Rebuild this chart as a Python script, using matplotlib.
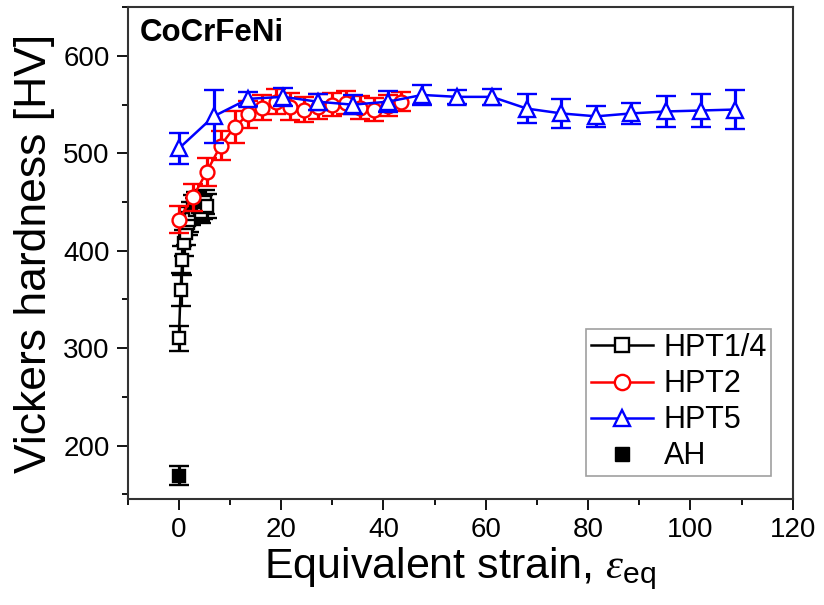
import matplotlib
matplotlib.use("Agg")
import matplotlib.pyplot as plt
from matplotlib.lines import Line2D
from matplotlib.ticker import MultipleLocator

plt.rcParams['font.family'] = ['Liberation Sans', 'DejaVu Sans']
plt.rcParams['mathtext.fontset'] = 'custom'
plt.rcParams['mathtext.rm'] = 'Liberation Sans'
plt.rcParams['mathtext.it'] = 'Liberation Serif:italic'

# HPT1/4 (black squares)
hpt14_x = [0, 0.34, 0.68, 1.02, 1.36, 1.70, 2.04, 2.38, 2.72, 3.06, 3.40, 3.74, 4.08, 4.42, 4.76, 5.10, 5.44]
hpt14_y = [310, 360, 390, 408, 418, 428, 432, 438, 445, 442, 448, 445, 443, 440, 445, 450, 446]
hpt14_e = [13, 17, 15, 13, 12, 12, 13, 12, 12, 12, 12, 12, 12, 12, 12, 12, 12]

# HPT2 (red circles)
hpt2_x = [0, 2.72, 5.44, 8.16, 10.88, 13.60, 16.32, 19.04, 21.76, 24.48, 27.20, 29.92, 32.64, 35.36, 38.08, 40.80, 43.52]
hpt2_y = [432, 455, 481, 508, 527, 540, 547, 553, 548, 545, 548, 550, 552, 547, 545, 549, 553]
hpt2_e = [14, 14, 14, 15, 16, 14, 13, 13, 14, 13, 13, 12, 12, 12, 12, 11, 10]

# HPT5 (blue triangles)
hpt5_x = [0, 6.8, 13.6, 20.4, 27.2, 34.0, 40.8, 47.6, 54.4, 61.2, 68.0, 74.8, 81.6, 88.4, 95.2, 102.0, 108.8]
hpt5_y = [505, 538, 556, 558, 553, 550, 553, 560, 558, 558, 546, 541, 538, 541, 543, 544, 545]
hpt5_e = [16, 27, 7, 9, 8, 10, 11, 10, 7, 8, 15, 15, 11, 11, 16, 17, 20]

# AH (filled square)
ah_x = [0]
ah_y = [169]
ah_e = [10]

fig = plt.figure(figsize=(8.24, 6.05), dpi=100)
ax = fig.add_axes([0.155, 0.175, 0.807, 0.813])

common = dict(linewidth=1.8, elinewidth=2.3, capsize=7.5, capthick=2.3, markersize=9,
              markeredgewidth=1.7)
ax.errorbar(hpt14_x, hpt14_y, yerr=hpt14_e, color='black', marker='s',
            markerfacecolor='white', markeredgecolor='black', zorder=2, **common)
ax.errorbar(hpt2_x, hpt2_y, yerr=hpt2_e, color='red', marker='o',
            markerfacecolor='white', markeredgecolor='red', zorder=3,
            **{**common, 'markersize': 10})
ax.errorbar(hpt5_x, hpt5_y, yerr=hpt5_e, color='blue', marker='^',
            markerfacecolor='white', markeredgecolor='blue', zorder=4,
            **{**common, 'markersize': 11})
ax.errorbar(ah_x, ah_y, yerr=ah_e, color='black', marker='s', linestyle='none',
            markerfacecolor='black', zorder=5, **common)

ax.set_xlim(-10, 120)
ax.set_ylim(145, 650)
ax.xaxis.set_major_locator(MultipleLocator(20))
ax.xaxis.set_minor_locator(MultipleLocator(10))
ax.yaxis.set_major_locator(MultipleLocator(100))
ax.yaxis.set_minor_locator(MultipleLocator(50))
ax.tick_params(axis='both', which='major', direction='out', length=8, width=1.3,
               labelsize=20, pad=5, top=False, right=False)
ax.tick_params(axis='both', which='minor', direction='out', length=4, width=1.3,
               top=False, right=False)
for s in ax.spines.values():
    s.set_linewidth(1.5)
    s.set_color('#333333')

ax.set_xlabel(r'Equivalent strain, $\varepsilon_{\mathrm{eq}}$', fontsize=31, labelpad=2)
ax.set_ylabel('Vickers hardness [HV]', fontsize=32, labelpad=6)

ax.text(0.018, 0.978, 'CoCrFeNi', transform=ax.transAxes, fontsize=22.5,
        fontweight='bold', va='top', ha='left')

handles = [
    Line2D([], [], color='black', marker='s', markerfacecolor='white', markersize=10,
           linewidth=1.8, markeredgewidth=1.7),
    Line2D([], [], color='red', marker='o', markerfacecolor='white', markersize=11,
           linewidth=1.8, markeredgewidth=1.7),
    Line2D([], [], color='blue', marker='^', markerfacecolor='white', markersize=12,
           linewidth=1.8, markeredgewidth=1.7),
    Line2D([], [], color='black', marker='s', markerfacecolor='black', markersize=10,
           linestyle='none'),
]
labels = ['HPT1/4', 'HPT2', 'HPT5', 'AH']
leg = ax.legend(handles, labels, loc='lower right', bbox_to_anchor=(0.968, 0.047),
                borderaxespad=0, fontsize=22, frameon=True, fancybox=False,
                edgecolor='#888888', handlelength=2.05, handletextpad=0.33,
                labelspacing=0.2, borderpad=0.15)
leg.get_frame().set_linewidth(1.2)

fig.savefig('out.png', dpi=100)
